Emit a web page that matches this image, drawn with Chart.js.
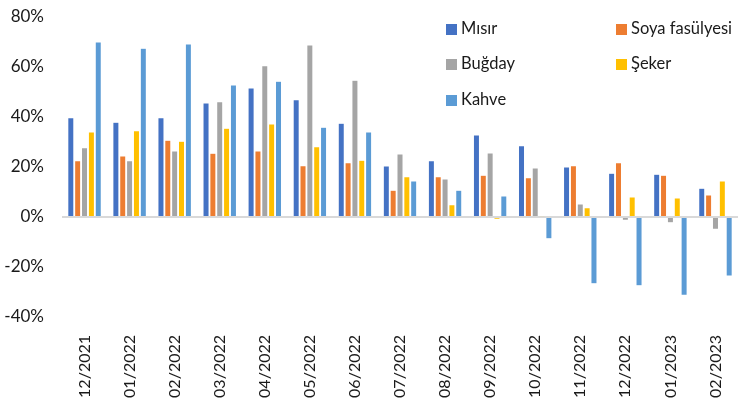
<!DOCTYPE html>
<html>
<head>
<meta charset="utf-8">
<script src="https://cdn.jsdelivr.net/npm/chart.js@4"></script>
<style>
  body { margin: 0; background: #fff; }
  #wrap { position: relative; width: 740px; height: 399px; }
  .leg { position: absolute; font-family: Lato, sans-serif; font-size: 16.5px; color: #1a1a1a; line-height: 18px; white-space: nowrap; }
  .leg i { display: inline-block; width: 11px; height: 11px; margin-right: 4px; vertical-align: -1px; }
</style>
</head>
<body>
<div id="wrap">
  <canvas id="chart" width="740" height="399"></canvas>
  <div id="legend"></div>
</div>
<script>
// months on the x axis
const months = ['12/2021', '01/2022', '02/2022', '03/2022', '04/2022', '05/2022', '06/2022', '07/2022',
  '08/2022', '09/2022', '10/2022', '11/2022', '12/2022', '01/2023', '02/2023'];

// yearly change, %
const misir = [39.7, 37.9, 39.7, 45.6, 51.6, 46.9, 37.5, 20.4, 22.5, 32.8, 28.5, 20.0, 17.5, 17.1, 11.5];
const soya = [22.5, 24.4, 30.7, 25.5, 26.4, 20.5, 21.7, 10.7, 16.1, 16.7, 15.7, 20.5, 21.7, 16.7, 8.8];
const bugday = [27.7, 22.5, 26.4, 46.1, 60.5, 68.8, 54.7, 25.2, 15.2, 25.6, 19.6, 5.2, -1.3, -2.3, -4.9];
const seker = [34.0, 34.5, 30.3, 35.5, 37.2, 28.1, 22.7, 16.1, 4.9, -0.9, 0.3, 3.7, 8.0, 7.6, 14.4];
const kahve = [70.0, 67.5, 69.2, 52.8, 54.3, 35.9, 34.0, 14.4, 10.7, 8.4, -8.7, -26.7, -27.5, -31.3, -23.6];

// y axis: -40% .. 80% every 20
const yMin = -40;
const yMax = 80;
const yStep = 20;

const series = [
  { label: 'Mısır', data: misir, color: '#4472C4' },
  { label: 'Soya fasülyesi', data: soya, color: '#ED7D31' },
  { label: 'Buğday', data: bugday, color: '#A5A5A5' },
  { label: 'Şeker', data: seker, color: '#FFC000' },
  { label: 'Kahve', data: kahve, color: '#5B9BD5' }
];

// legend sits inside the plot, two columns
const legendPos = [[446, 19], [616, 19], [446, 54], [616, 54], [446, 90]];
const legendEl = document.getElementById('legend');
series.forEach((s, i) => {
  const d = document.createElement('div');
  d.className = 'leg';
  d.style.left = legendPos[i][0] + 'px';
  d.style.top = legendPos[i][1] + 'px';
  d.innerHTML = '<i style="background:' + s.color + '"></i>' + s.label;
  legendEl.appendChild(d);
});

const ctx = document.getElementById('chart').getContext('2d');

new Chart(ctx, {
  type: 'bar',
  data: {
    labels: months,
    datasets: series.map(s => ({
      label: s.label,
      data: s.data,
      backgroundColor: s.color,
      borderColor: 'rgba(255,255,255,0.5)',
      borderWidth: 0.5,
      categoryPercentage: 0.76,
      barPercentage: 0.88
    }))
  },
  options: {
    responsive: false,
    animation: false,
    layout: { padding: { top: 17, right: 2, left: 0, bottom: 0 } },
    plugins: {
      legend: { display: false },
      tooltip: { enabled: false }
    },
    scales: {
      x: {
        grid: { display: false },
        border: { display: false },
        ticks: {
          minRotation: 90,
          maxRotation: 90,
          padding: 10,
          color: '#1a1a1a',
          font: { family: 'Lato', size: 16 }
        },
        afterFit: function (scale) {
          scale.height = 82;
          scale.paddingLeft = 0;
          scale.paddingRight = 0;
        }
      },
      y: {
        min: yMin,
        max: yMax,
        grid: {
          drawTicks: false,
          color: c => c.tick && c.tick.value === 0 ? '#D9D9D9' : 'rgba(0,0,0,0)',
          lineWidth: 2
        },
        border: { display: false },
        ticks: {
          stepSize: yStep,
          padding: 18,
          color: '#1a1a1a',
          font: { family: 'Lato', size: 17 },
          callback: v => v + '%'
        },
        afterFit: function (scale) {
          scale.width = 62;
          scale.paddingTop = 0;
          scale.paddingBottom = 0;
        }
      }
    }
  }
});
</script>
</body>
</html>
